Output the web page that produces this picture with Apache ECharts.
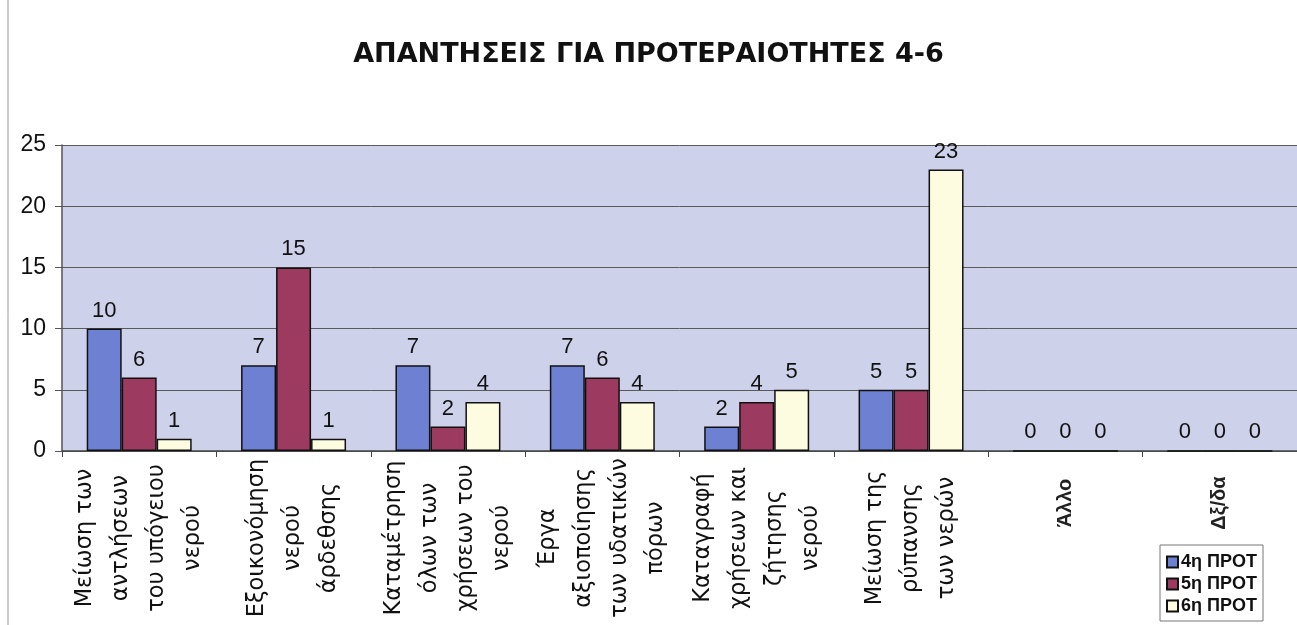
<!DOCTYPE html>
<html>
<head>
<meta charset="utf-8">
<script src="https://cdn.jsdelivr.net/npm/echarts@6/dist/echarts.min.js"></script>
<style>html,body{margin:0;padding:0;background:#fff}#c{width:1297px;height:625px}</style>
</head>
<body>
<div id="c"></div>
<script>
const title = 'ΑΠΑΝΤΗΣΕΙΣ ΓΙΑ ΠΡΟΤΕΡΑΙΟΤΗΤΕΣ 4-6';
const categories = [
  'Μείωση των\nαντλήσεων\nτου υπόγειου\nνερού',
  'Εξοικονόμηση\nνερού\nάρδεθσης',
  'Καταμέτρηση\nόλων των\nχρήσεων του\nνερού',
  'Έργα\nαξιοποίησης\nτων υδατικών\nπόρων',
  'Καταγραφή\nχρήσεων και\nζήτησης\nνερού',
  'Μείωση της\nρύπανσης\nτων νερών',
  'Άλλο',
  'Δξ/δα'
];
const seriesNames = ['4η ΠΡΟΤ', '5η ΠΡΟΤ', '6η ΠΡΟΤ'];
const prot4 = [10, 7, 7, 7, 2, 5, 0, 0];
const prot5 = [6, 15, 2, 6, 4, 5, 0, 0];
const prot6 = [1, 1, 4, 4, 5, 23, 0, 0];
const yTicks = { min: 0, max: 25, interval: 5 };

const colors = ['#6d80d2', '#9c3b5f', '#fdfce0'];
const chart = echarts.init(document.getElementById('c'), null, { renderer: 'canvas' });

function mkSeries(name, data, color) {
  return {
    name: name,
    type: 'bar',
    data: data,
    barGap: '0%',
    barCategoryGap: '32%',
    itemStyle: { color: color, borderColor: '#111', borderWidth: 1.5 },
    label: {
      show: true, position: 'top', distance: 7,
      fontFamily: 'Liberation Sans', fontSize: 22, color: '#111'
    },
    emphasis: { disabled: true },
    animation: false
  };
}

const option = {
  animation: false,
  title: {
    text: title, left: 'center', top: 36,
    textStyle: { fontFamily: 'DejaVu Sans', fontWeight: 'bold', fontSize: 27, color: '#111' }
  },
  grid: {
    left: 62, right: 0, top: 145, bottom: 174,
    show: true, backgroundColor: '#cdd1ea', borderWidth: 0
  },
  legend: {
    orient: 'vertical', left: 1160, top: 545,
    padding: [8, 6, 6, 6],
    borderColor: '#777', borderWidth: 1,
    itemWidth: 11, itemHeight: 11, itemGap: 4,
    icon: 'rect',
    textStyle: { fontFamily: 'Liberation Sans', fontWeight: 'bold', fontSize: 18, color: '#111', padding: [0, 0, 0, -2] },
    data: seriesNames
  },
  xAxis: {
    type: 'category',
    data: categories,
    axisLine: { lineStyle: { color: '#444', width: 1.5 } },
    axisTick: { show: true, alignWithLabel: false, length: 6, lineStyle: { color: '#444' } },
    axisLabel: {
      rotate: 90, margin: 9, interval: 0,
      formatter: function (v, i) {
        const tag = i >= 6 ? 'b' : 'a';
        return v.split('\n').map(function (s) { return '{' + tag + '|' + s + '}'; }).join('\n');
      },
      rich: {
        a: { width: 156, align: 'center', lineHeight: 36, fontFamily: 'DejaVu Sans', fontSize: 22.5, color: '#111' },
        b: { width: 86, align: 'center', lineHeight: 36, fontFamily: 'Liberation Sans', fontWeight: 'bold', fontSize: 20, color: '#222' }
      }
    }
  },
  yAxis: {
    type: 'value', min: yTicks.min, max: yTicks.max, interval: yTicks.interval,
    axisLine: { show: true, lineStyle: { color: '#555', width: 1.5 } },
    axisTick: { show: true, length: 7, lineStyle: { color: '#555' } },
    splitLine: { lineStyle: { color: '#5a5a5a', width: 1 } },
    axisLabel: { fontFamily: 'Liberation Sans', fontSize: 23, color: '#111', margin: 16 }
  },
  graphic: [
    { type: 'line', shape: { x1: 8, y1: 0, x2: 8, y2: 625 }, style: { stroke: '#999', lineWidth: 1 }, silent: true }
  ],
  series: [
    mkSeries(seriesNames[0], prot4, colors[0]),
    mkSeries(seriesNames[1], prot5, colors[1]),
    mkSeries(seriesNames[2], prot6, colors[2])
  ]
};
chart.setOption(option);
</script>
</body>
</html>
